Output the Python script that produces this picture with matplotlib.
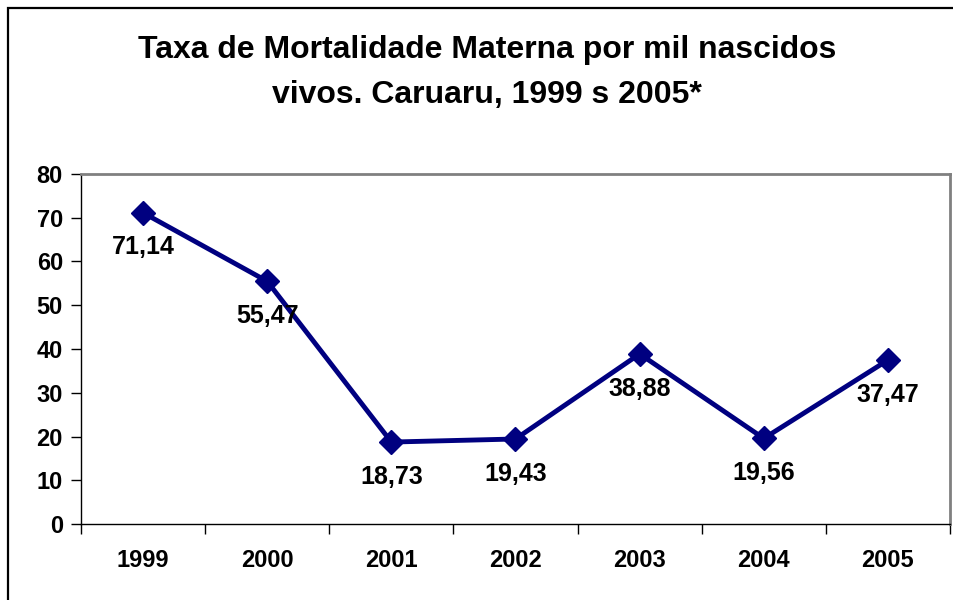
import matplotlib
matplotlib.use("Agg")
import matplotlib.pyplot as plt
from matplotlib.patches import Rectangle

years = ["1999", "2000", "2001", "2002", "2003", "2004", "2005"]
rates = [71.14, 55.47, 18.73, 19.43, 38.88, 19.56, 37.47]
labels = ["71,14", "55,47", "18,73", "19,43", "38,88", "19,56", "37,47"]
yticks = [0, 10, 20, 30, 40, 50, 60, 70, 80]

plt.rcParams['font.family'] = ['Liberation Sans', 'DejaVu Sans']
plt.rcParams['font.weight'] = 'bold'

W, H = 954, 600
fig = plt.figure(figsize=(W / 100, H / 100), dpi=100)
fig.patch.set_facecolor('white')

# outer chart border
fig.add_artist(Rectangle((8 / W, -0.1), 1.2, 1 - 8 / H + 0.1, transform=fig.transFigure,
                         fill=False, edgecolor='black', linewidth=1.6))

ax = fig.add_axes([81 / W, (H - 524) / H, 869 / W, 350 / H])
x = list(range(len(years)))
ax.plot(x, rates, color='#000080', linewidth=3.5, marker='D', markersize=12.5,
        markerfacecolor='#000080', markeredgecolor='#000080', zorder=3)

for xi, v, lab in zip(x, rates, labels):
    ax.annotate(lab, (xi, v), xytext=(0, -25), textcoords='offset points',
                ha='center', va='center', fontsize=18, fontweight='bold')

ax.set_xlim(-0.5, len(years) - 0.5)
ax.set_ylim(0, 80)
ax.set_yticks(yticks)
ax.set_yticklabels([str(t) for t in yticks], fontsize=17, fontweight='bold')

ax.set_xticks([i - 0.5 for i in range(len(years) + 1)])
ax.set_xticklabels([])
ax.set_xticks(x, minor=True)
ax.set_xticklabels(years, minor=True, fontsize=17, fontweight='bold')
ax.tick_params(axis='x', which='minor', length=0, pad=18)
ax.tick_params(axis='x', which='major', length=7, width=1, direction='out')
ax.tick_params(axis='y', length=7, width=1, direction='out', pad=6)

for s in ['top', 'right']:
    ax.spines[s].set_color('#808080')
    ax.spines[s].set_linewidth(2)
for s in ['left', 'bottom']:
    ax.spines[s].set_color('black')
    ax.spines[s].set_linewidth(1)

fig.text(487 / W, 1 - 50 / H, "Taxa de Mortalidade Materna por mil nascidos",
         ha='center', va='center', fontsize=23, fontweight='bold')
fig.text(487 / W, 1 - 95 / H, "vivos. Caruaru, 1999 s 2005*",
         ha='center', va='center', fontsize=23, fontweight='bold')

fig.savefig("out.png", dpi=100, facecolor='white')
